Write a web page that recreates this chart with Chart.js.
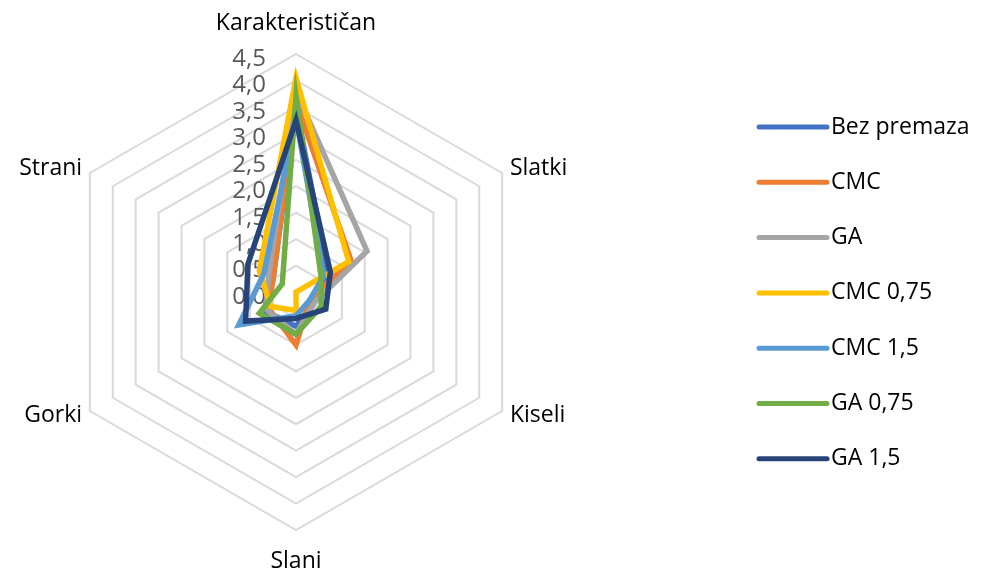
<!DOCTYPE html>
<html>
<head>
<meta charset="utf-8">
<script src="https://cdn.jsdelivr.net/npm/chart.js"></script>
<style>
  html, body { margin: 0; padding: 0; background: #fff; }
  #wrap { width: 987px; height: 574px; }
</style>
</head>
<body>
<div id="wrap"><canvas id="radar" width="987" height="574"></canvas></div>
<script>
"use strict";
// kategorije (osi) i vrijednosti po seriji
const kategorije = ['Karakterističan', 'Slatki', 'Kiseli', 'Slani', 'Gorki', 'Strani'];

const bezPremaza = [3.5, 0.7, 0.4, 0.65, 0.7, 0.5];
const cmc        = [3.6, 1.2, 0.3, 1.0, 0.6, 0.5];
const ga         = [3.8, 1.55, 0.4, 0.8, 0.65, 0.6];
const cmc075     = [4.05, 1.15, 0.0, 0.35, 0.55, 0.8];
const cmc15      = [3.3, 0.6, 0.3, 0.45, 1.25, 0.7];
const ga075      = [3.7, 0.55, 0.55, 0.8, 0.8, 0.3];
const ga15       = [3.25, 0.75, 0.65, 0.5, 1.1, 1.05];

const nazivi = ['Bez premaza', 'CMC', 'GA', 'CMC 0,75', 'CMC 1,5', 'GA 0,75', 'GA 1,5'];
const boje = ['#4472C4', '#ED7D31', '#A5A5A5', '#FFC000', '#5B9BD5', '#70AD47', '#264478'];
const serije = [bezPremaza, cmc, ga, cmc075, cmc15, ga075, ga15];

const FONT = '"Open Sans", "Liberation Sans", sans-serif';

// oznake osi, brojevi na skali i legenda crtaju se ručno (kao u Excelu)
const excelLabels = {
  id: 'excelLabels',
  beforeDatasetsDraw(chart) {
    const r = chart.scales.r;
    const ctx = chart.ctx;
    ctx.save();
    ctx.font = '24px ' + FONT;
    ctx.fillStyle = '#595959';
    ctx.textAlign = 'right';
    ctx.textBaseline = 'middle';
    r.ticks.forEach(t => {
      const d = r.getDistanceFromCenterForValue(t.value);
      ctx.fillText(t.value.toFixed(1).replace('.', ','), r.xCenter - 30, r.yCenter - d + 5);
    });
    ctx.restore();
  },
  afterDraw(chart) {
    const r = chart.scales.r;
    const ctx = chart.ctx;
    ctx.save();
    ctx.font = '23px ' + FONT;
    ctx.fillStyle = '#000';
    ctx.textBaseline = 'middle';
    kategorije.forEach((k, i) => {
      const vert = (i === 0 || i === 3);
      const p = r.getPointPosition(i, r.drawingArea + (vert ? 31 : 9));
      ctx.textAlign = vert ? 'center' : (i < 3 ? 'left' : 'right');
      ctx.fillText(k, p.x, p.y);
    });

    // legenda
    ctx.font = '23px ' + FONT;
    chart.data.datasets.forEach((ds, i) => {
      const y = 127 + i * 55.3;
      ctx.strokeStyle = ds.borderColor;
      ctx.lineWidth = 5;
      ctx.lineCap = 'round';
      ctx.beginPath();
      ctx.moveTo(759, y);
      ctx.lineTo(827, y);
      ctx.stroke();
      ctx.textAlign = 'left';
      ctx.fillStyle = '#000';
      ctx.fillText(ds.label, 831, y);
    });
    ctx.restore();
  }
};

new Chart(document.getElementById('radar').getContext('2d'), {
  type: 'radar',
  data: {
    labels: kategorije,
    datasets: serije.map((s, i) => ({
      label: nazivi[i],
      data: s,
      borderColor: boje[i],
      backgroundColor: boje[i],
      borderWidth: 5.5,
      fill: false,
      pointRadius: 0,
      tension: 0,
      order: serije.length - i
    }))
  },
  options: {
    responsive: false,
    devicePixelRatio: 1,
    animation: false,
    layout: { padding: { left: 58, right: 452, top: 54, bottom: 43 } },
    plugins: {
      legend: { display: false },
      tooltip: { enabled: false }
    },
    scales: {
      r: {
        min: 0,
        max: 4.5,
        beginAtZero: true,
        ticks: { display: false, stepSize: 0.5 },
        pointLabels: { display: false },
        angleLines: { display: false },
        grid: { circular: false, color: '#d9d9d9', lineWidth: 2 }
      }
    }
  },
  plugins: [excelLabels]
});
</script>
</body>
</html>
